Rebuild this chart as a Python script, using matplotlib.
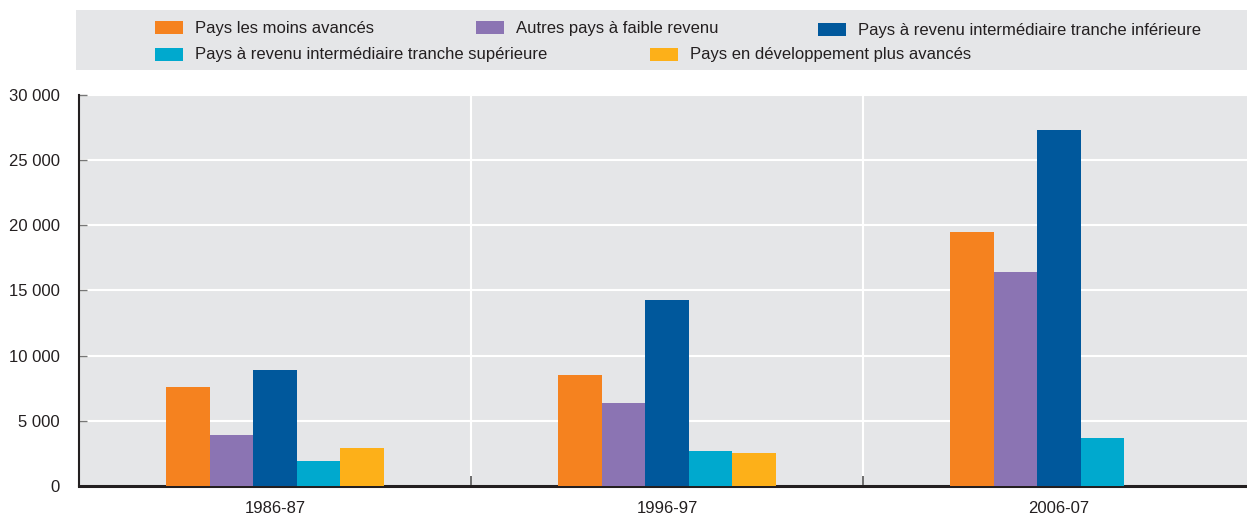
import matplotlib
matplotlib.use('Agg')
import matplotlib.pyplot as plt
import matplotlib.patches as mpatches
from matplotlib.ticker import FuncFormatter, FixedLocator
import numpy as np

plt.rcParams['font.family'] = ['Liberation Sans Narrow', 'Liberation Sans', 'DejaVu Sans']

# data
periods = ['1986-87', '1996-97', '2006-07']
series_names = [
    'Pays les moins avancés',
    'Autres pays à faible revenu',
    'Pays à revenu intermédiaire tranche inférieure',
    'Pays à revenu intermédiaire tranche supérieure',
    'Pays en développement plus avancés',
]
pma = [7600, 8500, 19500]
autres_faible = [3900, 6400, 16400]
rit_inf = [8900, 14300, 27300]
rit_sup = [1900, 2700, 3700]
pdav = [2900, 2500, 0]
values = [pma, autres_faible, rit_inf, rit_sup, pdav]
colors = ['#F5821F', '#8B74B3', '#00589C', '#00A9CE', '#FDB019']

fig = plt.figure(figsize=(12.47, 5.17), dpi=100)
ax = fig.add_axes([0.0634, 0.06, 0.943, 0.7563])
bg = '#E5E6E8'
ax.set_facecolor(bg)

x = np.arange(len(periods))
w = 0.111
for i, (vals, c) in enumerate(zip(values, colors)):
    ax.bar(x + (i - 2) * w, vals, width=w, color=c, zorder=3, linewidth=0)

ax.set_xlim(-0.5, 2.5)
ax.set_ylim(0, 30000)
ax.set_yticks(np.arange(0, 30001, 5000))
ax.yaxis.set_major_formatter(FuncFormatter(lambda v, p: f'{int(v):,}'.replace(',', ' ')))
ax.grid(axis='y', color='white', linewidth=1.5, zorder=1)
for xv in [0.5, 1.5]:
    ax.axvline(xv, color='white', linewidth=1.5, zorder=1)

ax.set_xticks(x)
ax.set_xticklabels(periods)
ax.xaxis.set_minor_locator(FixedLocator([0.5, 1.5]))
ax.tick_params(axis='x', which='major', length=0, labelsize=12, colors='#231F20', pad=11)
ax.tick_params(axis='x', which='minor', direction='in', length=7, width=1.2, color='#555555')
ax.tick_params(axis='y', direction='in', length=6, width=1, color='#777777', labelsize=12,
               labelcolor='#231F20', pad=14)

for s in ['top', 'right']:
    ax.spines[s].set_visible(False)
ax.spines['left'].set_color('#231F20')
ax.spines['left'].set_linewidth(1.5)
ax.spines['bottom'].set_color('#231F20')
ax.spines['bottom'].set_linewidth(2.2)

# legend box
W, H = 1247, 517
fig.patches.append(mpatches.Rectangle((76 / W, 1 - 70 / H), 1 - 76 / W, 60 / H,
                                      transform=fig.transFigure, facecolor=bg,
                                      edgecolor='none', zorder=0))
leg_pos = [(155, 28), (476, 28), (818, 30), (155, 55), (650, 55)]
for (px, py), name, c in zip(leg_pos, series_names, colors):
    fig.patches.append(mpatches.Rectangle((px / W, 1 - (py + 6) / H), 28 / W, 13 / H,
                                          transform=fig.transFigure, facecolor=c,
                                          edgecolor='none', zorder=2))
    fig.text((px + 40) / W, 1 - py / H, name, fontsize=12, color='#231F20',
             va='center', ha='left')

fig.savefig('out.png', dpi=100)
